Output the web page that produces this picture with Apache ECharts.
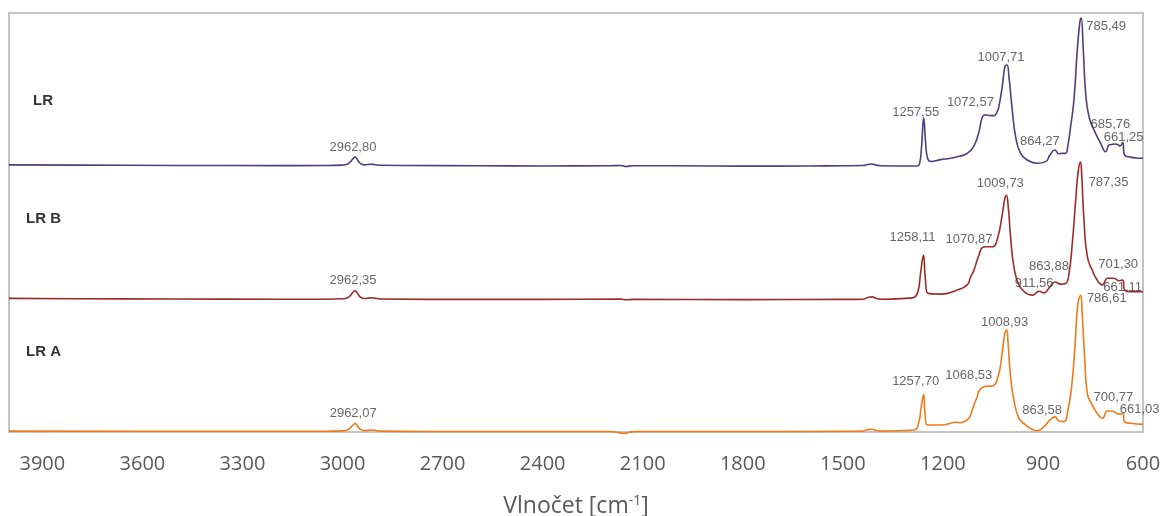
<!DOCTYPE html>
<html>
<head>
<meta charset="utf-8">
<script src="https://cdn.jsdelivr.net/npm/echarts@6/dist/echarts.min.js"></script>
<style>
  html, body { margin: 0; padding: 0; background: #ffffff; }
  #chart { width: 1164px; height: 516px; }
</style>
</head>
<body>
<div id="chart"></div>
<script>
// FTIR spectra: [wavenumber cm-1, absorbance (a.u.) above each spectrum's own baseline]
const spectrumLR = [
  [4000, 0.25], [3800, 0.2], [3500, 0.12], [3200, 0.08], [3050, 0.1], [3000, 0.2],
  [2985, 0.45], [2975, 1.1], [2968, 1.8], [2962.80, 2.1], [2956, 1.6], [2948, 0.7],
  [2935, 0.25], [2915, 0.4], [2905, 0.35], [2885, 0.15], [2800, 0.1], [2600, 0.05],
  [2400, 0.0], [2200, 0.05], [2165, 0.1], [2150, -0.15], [2130, 0.05], [2000, 0.05],
  [1800, -0.05], [1600, 0.0], [1500, 0.05], [1440, 0.1], [1425, 0.35], [1412, 0.45],
  [1400, 0.2], [1385, 0.05], [1300, 0.0], [1277, 0.0], [1270, 0.5], [1264, 4.5],
  [1257.55, 11.4], [1252, 5.8], [1246, 1.9], [1237, 1.07], [1207, 1.5], [1177, 1.85],
  [1150, 2.3], [1127, 3.0], [1108, 4.6], [1093, 7.8], [1082, 11.6], [1072.57, 12.2],
  [1057, 12.0], [1047, 12.0], [1037, 13.0], [1032, 14.2], [1022, 18.9], [1014, 23.7],
  [1007.71, 24.1], [1002, 21.3], [992, 13.4], [982, 7.0], [967, 3.0], [947, 1.43],
  [917, 0.64], [892, 1.03], [879, 2.6], [864.27, 3.8], [852, 2.9], [840, 3.0],
  [832, 3.0], [825, 5.0], [817, 9.4], [807, 15.8], [797, 27.7], [789.2, 34.4],
  [785.49, 35.3], [779, 27.7], [772, 17.4], [762, 11.8], [747, 8.6], [727, 5.4],
  [712, 3.4], [702, 5.0], [695, 5.1], [685.76, 5.25], [675, 5.1], [669, 4.7],
  [661.25, 5.6], [655, 2.6], [637, 2.1], [620, 1.9], [600, 1.84]
];

const spectrumLRB = [
  [4000, 0.3], [3800, 0.2], [3500, 0.15], [3200, 0.1], [3050, 0.1], [3000, 0.2],
  [2985, 0.45], [2975, 1.1], [2968, 1.8], [2962.35, 2.1], [2956, 1.6], [2948, 0.7],
  [2935, 0.25], [2915, 0.4], [2905, 0.35], [2885, 0.15], [2600, 0.05], [2400, 0.05],
  [2165, 0.15], [2150, -0.05], [2130, 0.05], [1800, 0.0], [1500, 0.05], [1440, 0.1],
  [1425, 0.5], [1412, 0.65], [1400, 0.3], [1385, 0.1], [1300, 0.35], [1287, 0.5],
  [1275, 1.8], [1267, 6.2], [1258.11, 10.6], [1253, 5.4], [1245, 1.5], [1207, 1.3],
  [1157, 2.3], [1127, 3.5], [1117, 5.4], [1107, 7.0], [1097, 9.5], [1092, 10.6],
  [1082, 12.4], [1070.87, 12.6], [1052, 12.6], [1037, 14.4], [1022, 20.3], [1014, 24.2],
  [1009.73, 24.9], [1004, 22.1], [997, 15.0], [987, 7.8], [972, 3.5], [952, 1.6],
  [932, 1.07], [911.56, 2.0], [897, 1.6], [879, 3.05], [863.88, 4.2], [847, 3.7],
  [832, 3.85], [822, 6.2], [812, 13.4], [802, 23.6], [794, 30.8], [787.35, 32.8],
  [784, 30.1], [777, 19.0], [767, 10.3], [752, 7.0], [737, 4.6], [722, 3.5],
  [707, 5.1], [701.30, 5.1], [687, 5.1], [672, 4.5], [661.11, 4.65], [655, 2.3],
  [637, 1.9], [600, 1.86]
];

const spectrumLRA = [
  [4000, 0.1], [3600, 0.05], [3200, 0.05], [3050, 0.05], [3000, 0.15], [2985, 0.4],
  [2975, 1.0], [2968, 1.6], [2962.07, 1.9], [2956, 1.4], [2948, 0.6], [2935, 0.2],
  [2915, 0.35], [2905, 0.3], [2885, 0.1], [2600, 0.0], [2400, 0.0], [2200, 0.0],
  [2170, -0.3], [2155, -0.45], [2140, -0.2], [2120, 0.0], [1800, 0.0], [1500, 0.05],
  [1440, 0.1], [1425, 0.45], [1412, 0.55], [1400, 0.25], [1385, 0.1], [1287, 0.36],
  [1272, 2.3], [1265, 5.9], [1257.70, 8.8], [1254, 4.7], [1247, 1.55], [1207, 1.55],
  [1157, 2.2], [1147, 2.1], [1127, 2.75], [1117, 3.95], [1107, 6.3], [1097, 8.3],
  [1092, 9.6], [1077, 10.7], [1068.53, 10.8], [1052, 10.85], [1035, 13.0], [1022, 18.8],
  [1014, 23.6], [1008.93, 24.2], [1005, 21.7], [997, 13.0], [987, 7.5], [972, 3.2],
  [952, 1.55], [932, 0.5], [915, 0.2], [897, 1.15], [879, 2.7], [863.58, 3.5],
  [852, 2.5], [837, 2.35], [825, 5.2], [814, 10.7], [804, 20.3], [795, 30.6],
  [786.61, 32.5], [783, 29.0], [775, 17.8], [767, 9.1], [752, 6.3], [737, 4.3],
  [722, 3.15], [707, 4.9], [700.77, 4.9], [687, 4.7], [672, 4.15], [661.03, 4.3],
  [655, 2.3], [637, 1.95], [600, 1.7]
];

// Labelled band positions (cm-1)
const peaksLR  = [2962.80, 1257.55, 1072.57, 1007.71, 864.27, 785.49, 685.76, 661.25];
const peaksLRB = [2962.35, 1258.11, 1070.87, 1009.73, 911.56, 863.88, 787.35, 701.30, 661.11];
const peaksLRA = [2962.07, 1257.70, 1068.53, 1008.93, 863.58, 786.61, 700.77, 661.03];

const seriesNames = ['LR', 'LR B', 'LR A'];
const xTicks = [600, 900, 1200, 1500, 1800, 2100, 2400, 2700, 3000, 3300, 3600, 3900];

// ---- presentation ----
const verticalShift = { 'LR': 63.5, 'LR B': 31.6, 'LR A': 0.12 };
const colors = { 'LR': '#4f3f7c', 'LR B': '#9c2b2b', 'LR A': '#ef7a1a' };
const labelOffsets = {
  'LR':   [[-2, -10], [-8, -6], [-15, -12], [-6, -8], [-15, -9], [25, 8], [-4, -20], [1, -5]],
  'LR B': [[-2, -10], [-11, -18], [-17, -7], [-6, -12], [-5, -8], [-6, -16], [28, 20], [9, -14], [0, 7]],
  'LR A': [[-2, -10], [-8, -13], [-18, -11], [-2, -8], [-13, -6], [26, 3], [4, -14], [17, -4]]
};
const nameLabelPos = { 'LR': [33, 93], 'LR B': [26, 211], 'LR A': [26, 344] };

const spectra = { 'LR': spectrumLR, 'LR B': spectrumLRB, 'LR A': spectrumLRA };
const peaks = { 'LR': peaksLR, 'LR B': peaksLRB, 'LR A': peaksLRA };

function shifted(name) {
  const s = verticalShift[name];
  return spectra[name].map(p => [p[0], p[1] + s]);
}
function valueAt(name, wn) {
  const hit = spectra[name].find(p => p[0] === wn);
  return hit[1] + verticalShift[name];
}
const fmt = v => v.toFixed(2).replace('.', ',');

const series = [];
seriesNames.forEach(name => {
  series.push({
    name: name,
    type: 'line',
    data: shifted(name),
    showSymbol: false,
    smooth: 0.5,
    clip: false,
    lineStyle: { color: colors[name], width: 1.6 },
    itemStyle: { color: colors[name] },
    z: 3
  });
  series.push({
    name: name + ' bands',
    type: 'scatter',
    symbolSize: 0,
    itemStyle: { color: 'rgba(0,0,0,0)' },
    clip: false,
    z: 4,
    data: peaks[name].map((wn, i) => ({
      value: [wn, valueAt(name, wn)],
      label: { offset: labelOffsets[name][i] }
    })),
    label: {
      show: true,
      position: 'inside',
      formatter: p => fmt(p.value[0]),
      color: '#404040',
      fontFamily: 'Liberation Sans, Arial, sans-serif',
      fontSize: 13
    }
  });
});

const chart = echarts.init(document.getElementById('chart'), null, { renderer: 'canvas' });
chart.setOption({
  animation: false,
  backgroundColor: '#ffffff',
  grid: {
    left: 9, right: 21, top: 13, bottom: 84,
    containLabel: false,
    outerBoundsMode: 'none',
    show: true, borderColor: '#c4c4c4', borderWidth: 2, backgroundColor: 'transparent'
  },
  xAxis: {
    type: 'value',
    inverse: true,
    min: 600,
    max: 4000,
    interval: 300,
    axisLine: { show: false },
    axisTick: { show: false },
    splitLine: { show: false },
    axisLabel: {
      margin: 22,
      color: '#595959',
      fontFamily: 'Open Sans, sans-serif',
      fontSize: 20,
      formatter: v => (xTicks.indexOf(v) >= 0 ? String(v) : '')
    },
    name: 'Vlnočet [cm{sup|-1}]',
    nameLocation: 'middle',
    nameGap: 62,
    nameTextStyle: {
      color: '#595959',
      fontFamily: 'Open Sans, sans-serif',
      fontSize: 23,
      rich: {
        sup: {
          color: '#595959',
          fontFamily: 'Open Sans, sans-serif',
          fontSize: 14,
          verticalAlign: 'top',
          padding: [0, 0, 10, 0]
        }
      }
    }
  },
  yAxis: {
    type: 'value',
    min: 0,
    max: 100,
    show: false
  },
  graphic: seriesNames.map(name => ({
    type: 'text',
    left: nameLabelPos[name][0],
    top: nameLabelPos[name][1],
    style: {
      text: name,
      fill: '#333333',
      font: 'bold 15px "Liberation Sans", Arial, sans-serif'
    }
  })),
  series: series
});
</script>
</body>
</html>
